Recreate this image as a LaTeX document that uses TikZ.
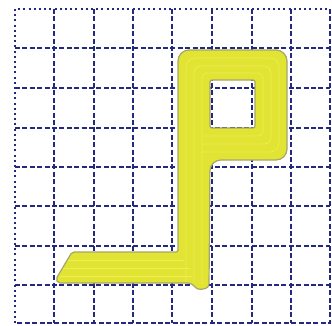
\documentclass[tikz,border=0pt]{standalone}
\usetikzlibrary{calc}
\definecolor{gridblue}{RGB}{35,40,130}
\definecolor{pyellow}{RGB}{226,228,52}
\definecolor{plight}{RGB}{240,242,90}
\definecolor{pedge}{RGB}{165,165,110}
\tikzset{
  gridline/.style={gridblue, line width=1.9pt, dash pattern=on 5pt off 2.4pt},
  borderline/.style={gridblue, line width=1.9pt, dash pattern=on 2pt off 3.2pt},
  shapefill/.style={fill=pyellow, draw=pedge, line width=1.2pt, even odd rule},
  streak/.style={plight, line width=0.6pt, opacity=0.8}
}
\begin{document}
\begin{tikzpicture}[x=1pt,y=-1pt]
\useasboundingbox (0,0) rectangle (332,325);
% grid
\foreach \gx in {54,94,133,172,212,252,291} {
  \draw[gridline] (\gx,9) -- (\gx,323);
}
\foreach \gy in {48,88,128,167,206,246,285} {
  \draw[gridline] (15,\gy) -- (330,\gy);
}
\draw[borderline] (15,323) -- (15,9) -- (330,9);
\draw[gridline] (330,9) -- (330,323) -- (15,323);
% yellow P shape
\path[shapefill, rounded corners=4pt]
  (58,283) -- (192,283) -- (197,290) -- (209,288) [rounded corners=11pt]
  -- (210,160) -- (287,160) -- (287,50) -- (178,50) [rounded corners=2pt] -- (178,252) -- (72,252) -- (56,279) -- cycle
  [rounded corners=2pt] (210,80) -- (255,80) -- (255,128) -- (210,128) -- cycle;
% streaks
\draw[streak, rounded corners=9pt] (186,282) -- (186,58) -- (279,58) -- (279,152) -- (202,152);
\draw[streak, rounded corners=7pt] (194,282) -- (194,66) -- (271,66) -- (271,144) -- (202,144);
\draw[streak, rounded corners=5pt] (202,284) -- (202,73) -- (263,73) -- (263,136) -- (204,136);
\draw[streak] (68,260) -- (184,260);
\draw[streak] (63,268) -- (190,268);
\draw[streak] (60,276) -- (192,276);
\end{tikzpicture}
\end{document}
